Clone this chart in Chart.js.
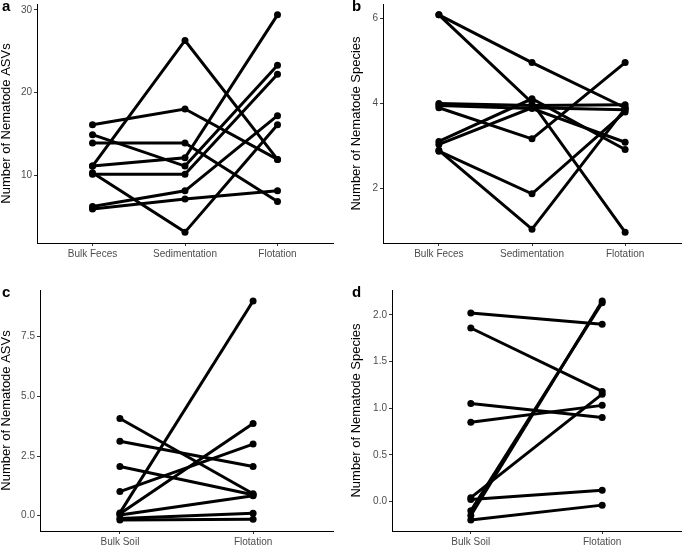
<!DOCTYPE html>
<html>
<head>
<meta charset="utf-8">
<script src="https://cdn.jsdelivr.net/npm/chart.js@4.4.0/dist/chart.umd.min.js"></script>
<style>
    html, body { margin: 0; padding: 0; background: #fff; }
    #wrap { position: relative; width: 685px; height: 545px; overflow: hidden; }
    canvas { position: absolute; }
</style>
</head>
<body>
<div id="wrap">
    <canvas id="panel-a" width="340" height="270" style="left:0;top:0;width:340px;height:270px"></canvas>
    <canvas id="panel-b" width="335" height="270" style="left:350px;top:0;width:335px;height:270px"></canvas>
    <canvas id="panel-c" width="340" height="275" style="left:0;top:270px;width:340px;height:275px"></canvas>
    <canvas id="panel-d" width="335" height="275" style="left:350px;top:270px;width:335px;height:275px"></canvas>
</div>
<script>
// Categorías de cada tratamiento
const fecesSteps = ["Bulk Feces", "Sedimentation", "Flotation"];
const soilSteps = ["Bulk Soil", "Flotation"];

// a: ASVs de nematodos por muestra de heces (una fila = una muestra)
const fecesAsvs = [
    [16.1, 18.0, 11.9],
    [14.9, 11.1, 23.3],
    [13.9, 13.9, 6.8],
    [11.1, 26.3, 11.9],
    [11.1, 12.1, 29.4],
    [10.1, 10.1, 22.2],
    [10.3, 3.1, 16.1],
    [6.2, 8.1, 17.2],
    [5.9, 7.1, 8.1],
];
const fecesAsvTicks = [10, 20, 30];

// b: especies de nematodos por muestra de heces
const fecesSpecies = [
    [6.08, 4.96, 3.90],
    [6.08, 4.02, 0.98],
    [4.00, 3.95, 3.97],
    [3.95, 3.88, 3.09],
    [3.90, 3.17, 4.96],
    [3.11, 4.11, 2.92],
    [3.04, 3.90, 3.85],
    [2.88, 1.88, 3.80],
    [2.90, 1.05, 3.88],
];
const fecesSpeciesTicks = [2, 4, 6];

// c: ASVs de nematodos por muestra de suelo
const soilAsvs = [
    [4.07, 0.92],
    [3.12, 2.06],
    [2.06, 0.88],
    [1.01, 3.00],
    [0.12, 8.99],
    [0.08, 3.86],
    [0.03, 0.84],
    [-0.12, 0.10],
    [-0.18, -0.15],
];
const soilAsvTicks = [0, 2.5, 5, 7.5];

// d: especies de nematodos por muestra de suelo
const soilSpecies = [
    [2.02, 1.90],
    [1.86, 1.18],
    [1.05, 0.90],
    [0.85, 1.03],
    [0.04, 1.15],
    [0.02, 0.12],
    [-0.10, 2.13],
    [-0.15, 2.15],
    [-0.20, -0.04],
];
const soilSpeciesTicks = [0, 0.5, 1, 1.5, 2];

const FONT = "'Liberation Sans', Arial, sans-serif";
const TICK_COLOR = "#4d4d4d";

// Letra del panel (a, b, c, d) en la esquina superior izquierda
const panelLetter = {
    id: "panelLetter",
    afterDraw(chart, args, opts) {
        const ctx = chart.ctx;
        ctx.save();
        ctx.font = `bold 15px ${FONT}`;
        ctx.fillStyle = "#000";
        ctx.textBaseline = "alphabetic";
        ctx.fillText(opts.text, opts.x, opts.y);
        ctx.restore();
    },
};

function makePanel(p) {
    const all = p.rows.flat();
    const lo = Math.min(...all);
    const hi = Math.max(...all);
    const pad = (hi - lo) * 0.05; // expansión tipo ggplot

    new Chart(document.getElementById(p.id), {
        type: "line",
        data: {
            datasets: p.rows.map((row) => ({
                data: row.map((v, i) => ({ x: i + 1, y: v })),
                borderColor: "#000",
                backgroundColor: "#000",
                borderWidth: 3,
                pointRadius: 3.5,
                pointBorderWidth: 0,
                pointBackgroundColor: "#000",
                tension: 0,
            })),
        },
        plugins: [panelLetter],
        options: {
            responsive: false,
            animation: false,
            devicePixelRatio: 1,
            layout: { padding: p.padding },
            plugins: {
                legend: { display: false },
                tooltip: { enabled: false },
                panelLetter: { text: p.letter, x: 2, y: p.letterY },
            },
            scales: {
                x: {
                    type: "linear",
                    min: 0.4,
                    max: p.cats.length + 0.6,
                    afterBuildTicks: (s) => {
                        s.ticks = p.cats.map((c, i) => ({ value: i + 1 }));
                    },
                    afterFit: (s) => {
                        s.height = p.xHeight;
                        s.paddingLeft = 0;
                        s.paddingRight = 0;
                    },
                    ticks: {
                        color: TICK_COLOR,
                        font: { size: 10, family: FONT },
                        padding: 2,
                        maxRotation: 0,
                        autoSkip: false,
                        callback: (v) => p.cats[v - 1] ?? "",
                    },
                    grid: {
                        drawOnChartArea: false,
                        drawTicks: true,
                        tickLength: 3,
                        tickColor: "#333",
                    },
                    border: { color: "#000", width: 1 },
                },
                y: {
                    type: "linear",
                    min: lo - pad,
                    max: hi + pad,
                    afterBuildTicks: (s) => {
                        s.ticks = p.ticks.map((v) => ({ value: v }));
                    },
                    afterFit: (s) => {
                        s.width = p.yWidth;
                        s.paddingTop = 0;
                        s.paddingBottom = 0;
                    },
                    ticks: {
                        color: TICK_COLOR,
                        font: { size: 10, family: FONT },
                        padding: 2,
                        callback: (v) => (p.decimals ? v.toFixed(1) : String(v)),
                    },
                    grid: {
                        drawOnChartArea: false,
                        drawTicks: true,
                        tickLength: 3,
                        tickColor: "#333",
                    },
                    border: { color: "#000", width: 1 },
                    title: {
                        display: true,
                        text: p.yTitle,
                        color: "#000",
                        font: { size: 13, family: FONT, lineHeight: 1 },
                        padding: { top: 0, bottom: 0 },
                    },
                },
            },
        },
    });
}

makePanel({
    id: "panel-a", letter: "a", letterY: 11,
    cats: fecesSteps, rows: fecesAsvs, ticks: fecesAsvTicks, decimals: false,
    yTitle: "Number of Nematode ASVs",
    yWidth: 37, xHeight: 27, padding: { top: 4, right: 7, left: 0, bottom: 0 },
});
makePanel({
    id: "panel-b", letter: "b", letterY: 11,
    cats: fecesSteps, rows: fecesSpecies, ticks: fecesSpeciesTicks, decimals: false,
    yTitle: "Number of Nematode Species",
    yWidth: 33, xHeight: 27, padding: { top: 4, right: 0, left: 0, bottom: 0 },
});
makePanel({
    id: "panel-c", letter: "c", letterY: 27,
    cats: soilSteps, rows: soilAsvs, ticks: soilAsvTicks, decimals: true,
    yTitle: "Number of Nematode ASVs",
    yWidth: 40, xHeight: 14, padding: { top: 20, right: 7, left: 0, bottom: 0 },
});
makePanel({
    id: "panel-d", letter: "d", letterY: 27,
    cats: soilSteps, rows: soilSpecies, ticks: soilSpeciesTicks, decimals: true,
    yTitle: "Number of Nematode Species",
    yWidth: 42, xHeight: 14, padding: { top: 20, right: 0, left: 0, bottom: 0 },
});
</script>
</body>
</html>
